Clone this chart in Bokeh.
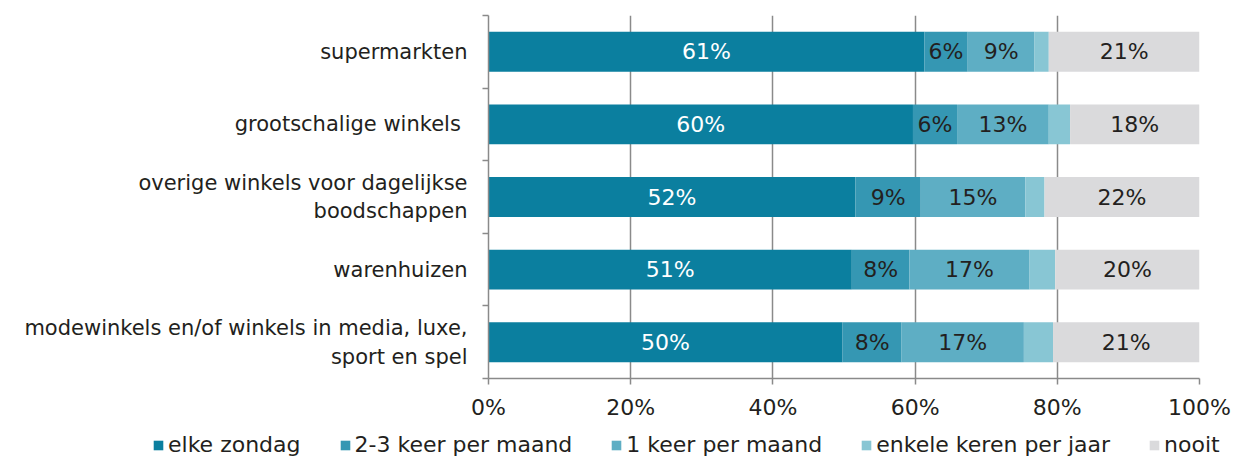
from bokeh.plotting import figure
from bokeh.layouts import column
from bokeh.models import ColumnDataSource, FixedTicker, PrintfTickFormatter, Legend, LegendItem
from bokeh.embed import file_html
from bokeh.resources import INLINE
from bokeh.core.properties import value

categories = [
    "supermarkten",
    "grootschalige winkels ",
    "overige winkels voor dagelijkse\nboodschappen",
    "warenhuizen",
    "modewinkels en/of winkels in media, luxe,\nsport en spel",
]
series_names = ["elke zondag", "2-3 keer per maand", "1 keer per maand",
                "enkele keren per jaar", "nooit"]
elke_zondag = [61.3, 59.7, 51.6, 51.1, 49.8]
keer_2_3_per_maand = [6.1, 6.2, 9.2, 8.1, 8.3]
keer_1_per_maand = [9.4, 12.9, 14.7, 16.9, 17.2]
enkele_keren_per_jaar = [2.0, 3.0, 2.7, 3.6, 4.1]
nooit = [21.2, 18.2, 21.8, 20.3, 20.6]
x_ticks = [0, 20, 40, 60, 80, 100]

colors = ["#0b7f9f", "#3597b3", "#5eaec4", "#88c6d4", "#dadadc"]
label_colors = ["#ffffff", "#231f20", "#231f20", "#231f20", "#231f20"]
FONT = "DejaVu Sans"
TXT = "#231f20"
GREY = "#8a8a8a"

n = len(categories)
ypos = [n - i - 0.5 for i in range(n)]
series = [elke_zondag, keer_2_3_per_maand, keer_1_per_maand, enkele_keren_per_jaar, nooit]
keys = ["s0", "s1", "s2", "s3", "s4"]
data = {"y": ypos}
for k, s in zip(keys, series):
    data[k] = s
source = ColumnDataSource(data)

p = figure(width=1234, height=430, x_range=(0, 100), y_range=(0, n),
           output_backend="svg", toolbar_location=None,
           min_border_left=488, min_border_right=35, min_border_top=15, min_border_bottom=52)
p.outline_line_color = None
p.background_fill_color = "white"
p.border_fill_color = "white"
p.frame_align = False

renderers = p.hbar_stack(keys, y="y", height=0.55, color=colors, line_color=None, source=source)

# labels inside bars
lx, ly, lt, lc = [], [], [], []
for i in range(n):
    left = 0.0
    for j, s in enumerate(series):
        v = s[i]
        if v >= 5:
            lx.append(left + v / 2)
            ly.append(ypos[i])
            lt.append(f"{round(v)}%")
            lc.append(label_colors[j])
        left += v
lab_src = ColumnDataSource(dict(x=lx, y=ly, text=lt, color=lc))
p.text(x="x", y="y", text="text", text_color="color", source=lab_src,
       text_align="center", text_baseline="middle",
       text_font=value(FONT), text_font_size="22px")

# x axis
p.xaxis.ticker = FixedTicker(ticks=x_ticks)
p.xaxis.formatter = PrintfTickFormatter(format="%d%%")
p.xaxis.major_tick_out = 6
p.xaxis.major_tick_in = 0
p.xaxis.minor_tick_out = 0
p.xaxis.minor_tick_in = 0
p.xaxis.axis_line_color = GREY
p.xaxis.axis_line_width = 1.5
p.xaxis.major_tick_line_color = GREY
p.xaxis.major_tick_line_width = 1.5
p.xaxis.major_label_text_font = FONT
p.xaxis.major_label_text_font_size = "22px"
p.xaxis.major_label_text_color = TXT
p.xaxis.major_label_standoff = 10

# y axis
p.yaxis.ticker = FixedTicker(ticks=ypos, minor_ticks=list(range(n + 1)))
p.yaxis.major_label_overrides = {y: c for y, c in zip(ypos, categories)}
p.yaxis.major_tick_out = 0
p.yaxis.major_tick_in = 0
p.yaxis.minor_tick_out = 6
p.yaxis.minor_tick_in = 0
p.yaxis.minor_tick_line_color = GREY
p.yaxis.minor_tick_line_width = 1.5
p.yaxis.axis_line_color = GREY
p.yaxis.axis_line_width = 1.5
p.yaxis.major_label_text_font = FONT
p.yaxis.major_label_text_font_size = "21px"
p.yaxis.major_label_text_color = TXT
p.yaxis.major_label_standoff = 15

# grid
p.xgrid.ticker = FixedTicker(ticks=x_ticks)
p.xgrid.grid_line_color = GREY
p.xgrid.grid_line_width = 1.5
p.ygrid.visible = False

# legend strip
pl = figure(width=1234, height=29, x_range=(0, 1), y_range=(0, 1),
            x_axis_type=None, y_axis_type=None,
            output_backend="svg", toolbar_location=None,
            min_border_left=0, min_border_right=0, min_border_top=0, min_border_bottom=0)
pl.outline_line_color = None
pl.background_fill_color = "white"
pl.border_fill_color = "white"
pl.frame_align = False
leg_rs = [pl.hbar(y=[5], left=[0], right=[0], height=0.5, color=c, line_color=None) for c in colors]
legend = Legend(items=[LegendItem(label=nm, renderers=[r]) for nm, r in zip(series_names, leg_rs)],
                orientation="horizontal", location=(152, 2),
                glyph_width=12, glyph_height=12, label_standoff=4, spacing=38,
                padding=0, margin=0, border_line_color=None, background_fill_alpha=0,
                label_text_font=FONT, label_text_font_size="22px", label_text_color=TXT)
pl.add_layout(legend)

layout = column(p, pl, spacing=0)
open("out.html", "w").write(file_html(layout, INLINE))
